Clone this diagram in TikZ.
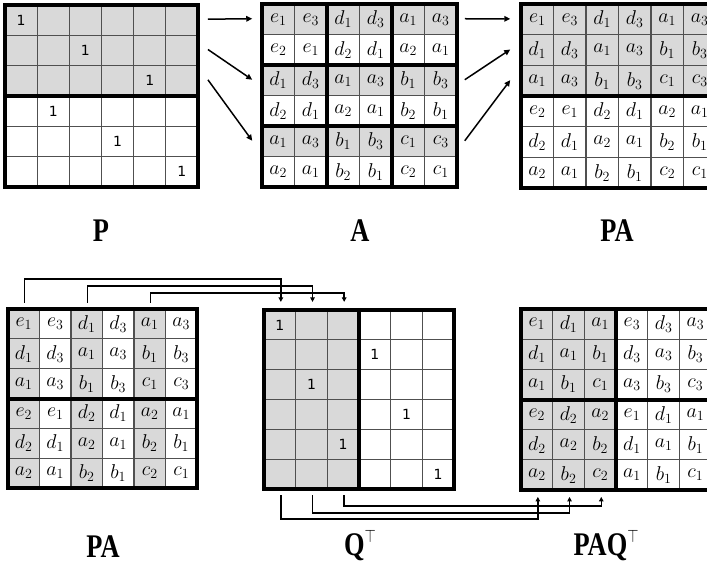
\RequirePackage{fix-cm}
\documentclass[tikz,border=0pt]{standalone}
\usepackage{fontspec}
\usepackage{graphicx}
\newfontfamily\digitfont{DejaVu Sans}
\newfontfamily\labfont{Liberation Serif}
\usetikzlibrary{calc,arrows.meta,backgrounds}
\definecolor{cellgray}{HTML}{D9D9D9}
\definecolor{gridgray}{HTML}{505050}

\tikzset{
  cell/.style={draw=gridgray, line width=1.2pt, inner sep=0pt, outer sep=0pt,
    font=\fontsize{20}{20}\selectfont},
  heavy/.style={line width=4pt},
  arr/.style={line width=1.5pt, -{Triangle[length=6pt,width=5.5pt]}},
  conn/.style={line width=1.4pt, -{Triangle[length=4.5pt,width=4.5pt]}},
  lab/.style={font=\fontsize{33}{33}\selectfont\labfont\bfseries, inner sep=0pt},
}

% #1 name, #2 x0, #3 y0, #4 cell width, #5 cell height, #6 rows of entries
\newcommand\cellgrid[6]{%
  \foreach \rw [count=\ri] in {#6}{%
    \foreach \ent [count=\ci] in \rw {%
      \node[cell, minimum width=#4pt, minimum height=#5pt]
        (#1-\ri-\ci) at ({#2+(\ci-0.5)*#4},{#3+(\ri-0.5)*#5}) {\cellfmt{\ent}};
    }%
  }%
}
\newcommand\lbl[1]{\scalebox{0.8}[1]{#1}}
\newcommand\tsup{\raisebox{13pt}{\fontsize{18}{18}\selectfont$\top$}}

\begin{document}
\begin{tikzpicture}[x=1pt,y=-1pt]
\useasboundingbox (0,0) rectangle (707,564);
\clip (0,0) rectangle (707,564);

% ---------- permutation P ----------
\def\cellfmt#1{{\digitfont\fontsize{14}{14}\selectfont #1}}
\cellgrid{P}{5}{5}{32.17}{30.33}{
  {1,{},{},{},{},{}},
  {{},{},1,{},{},{}},
  {{},{},{},{},1,{}},
  {{},1,{},{},{},{}},
  {{},{},{},1,{},{}},
  {{},{},{},{},{},1}}

% ---------- block matrix A ----------
\def\cellfmt#1{$#1$}
\cellgrid{A}{262}{4}{32.5}{30.5}{
  {e_1,e_3,d_1,d_3,a_1,a_3},
  {e_2,e_1,d_2,d_1,a_2,a_1},
  {d_1,d_3,a_1,a_3,b_1,b_3},
  {d_2,d_1,a_2,a_1,b_2,b_1},
  {a_1,a_3,b_1,b_3,c_1,c_3},
  {a_2,a_1,b_2,b_1,c_2,c_1}}

% ---------- product PA (top) ----------
\cellgrid{PA}{521}{4}{32.5}{30.67}{
  {e_1,e_3,d_1,d_3,a_1,a_3},
  {d_1,d_3,a_1,a_3,b_1,b_3},
  {a_1,a_3,b_1,b_3,c_1,c_3},
  {e_2,e_1,d_2,d_1,a_2,a_1},
  {d_2,d_1,a_2,a_1,b_2,b_1},
  {a_2,a_1,b_2,b_1,c_2,c_1}}

% ---------- product PA (bottom) ----------
\cellgrid{PB}{8}{309}{31.5}{29.85}{
  {e_1,e_3,d_1,d_3,a_1,a_3},
  {d_1,d_3,a_1,a_3,b_1,b_3},
  {a_1,a_3,b_1,b_3,c_1,c_3},
  {e_2,e_1,d_2,d_1,a_2,a_1},
  {d_2,d_1,a_2,a_1,b_2,b_1},
  {a_2,a_1,b_2,b_1,c_2,c_1}}

% ---------- permutation Q^T ----------
\def\cellfmt#1{{\digitfont\fontsize{14}{14}\selectfont #1}}
\cellgrid{Q}{264}{310}{31.67}{29.83}{
  {1,{},{},{},{},{}},
  {{},{},{},1,{},{}},
  {{},1,{},{},{},{}},
  {{},{},{},{},1,{}},
  {{},{},1,{},{},{}},
  {{},{},{},{},{},1}}

% ---------- product PAQ^T ----------
\def\cellfmt#1{$#1$}
\cellgrid{PQ}{521}{309}{31.7}{30.17}{
  {e_1,d_1,a_1,e_3,d_3,a_3},
  {d_1,a_1,b_1,d_3,a_3,b_3},
  {a_1,b_1,c_1,a_3,b_3,c_3},
  {e_2,d_2,a_2,e_1,d_1,a_1},
  {d_2,a_2,b_2,d_1,a_1,b_1},
  {a_2,b_2,c_2,a_1,b_1,c_1}}

% ---------- shaded rows / columns ----------
\begin{pgfonlayer}{background}
  \fill[cellgray] (P-1-1.north west) rectangle (P-3-6.south east);
  \foreach \k in {1,3,5}
    \fill[cellgray] (A-\k-1.north west) rectangle (A-\k-6.south east);
  \fill[cellgray] (PA-1-1.north west) rectangle (PA-3-6.south east);
  \foreach \k in {1,3,5}
    \fill[cellgray] (PB-1-\k.north west) rectangle (PB-6-\k.south east);
  \fill[cellgray] (Q-1-1.north west) rectangle (Q-6-3.south east);
  \fill[cellgray] (PQ-1-1.north west) rectangle (PQ-6-3.south east);
\end{pgfonlayer}

% ---------- heavy borders and block dividers ----------
\foreach \m in {P,A,PA,PB,Q,PQ}
  \draw[heavy] (\m-1-1.north west) rectangle (\m-6-6.south east);
\foreach \m in {P,PA,PB,PQ}
  \draw[heavy] (\m-3-1.south west) -- (\m-3-6.south east);
\draw[heavy] (A-2-1.south west) -- (A-2-6.south east);
\draw[heavy] (A-4-1.south west) -- (A-4-6.south east);
\draw[heavy] (A-1-2.north east) -- (A-6-2.south east);
\draw[heavy] (A-1-4.north east) -- (A-6-4.south east);
\draw[heavy] (Q-1-3.north east) -- (Q-6-3.south east);
\draw[heavy] (PQ-1-3.north east) -- (PQ-6-3.south east);

% ---------- P -> A -> PA arrows ----------
\foreach \i/\j in {1/1,2/3,3/5}{
  \draw[arr] ($(P-\i-6)+(26,-1)$) -- ($(A-\j-1)+(-26,-0.5)$);
  \draw[arr] ($(A-\j-6)+(24,-0.5)$) -- ($(PA-\i-1)+(-27,-0.5)$);
}

% ---------- column routing PA -> Q^T ----------
\coordinate (up1) at (0,279);
\coordinate (up2) at (0,286);
\coordinate (up3) at (0,293);
\foreach \k/\c/\q in {1/1/1,2/3/2,3/5/3}{
  \coordinate (s\k) at ($(PB-1-\c)+(1,-21)$);
  \coordinate (t\k) at ($(Q-1-\q)+(1,-23)$);
  \draw[conn] (s\k) -- (s\k |- up\k) -| (t\k);
}

% ---------- column routing Q^T -> PAQ^T ----------
\coordinate (dn1) at (0,519);
\coordinate (dn2) at (0,513);
\coordinate (dn3) at (0,506);
\foreach \k in {1,2,3}{
  \coordinate (u\k) at ($(Q-6-\k)+(1,21)$);
  \coordinate (v\k) at ($(PQ-6-\k)+(1,22)$);
  \draw[conn] (u\k) -- (u\k |- dn\k) -| (v\k);
}

% ---------- captions ----------
\node[lab] (labP)   at (101,231) {\lbl{P}};
\node[lab] (labA)   at (360,231) {\lbl{A}};
\node[lab] (labPA)  at (617,231) {\lbl{PA}};
\node[lab] (labPB)  at (103,547) {\lbl{PA}};
\node[lab] (labQ)   at (360,545) {\lbl{Q\tsup}};
\node[lab] (labPQ)  at (606,545) {\lbl{PAQ\tsup}};
\end{tikzpicture}
\end{document}
